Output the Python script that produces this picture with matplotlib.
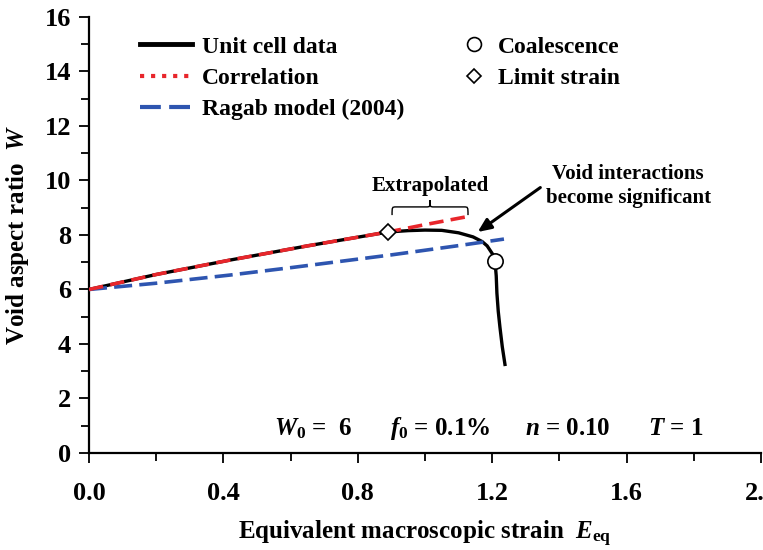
import matplotlib
matplotlib.use('Agg')
import matplotlib.pyplot as plt
from matplotlib.lines import Line2D
from matplotlib.path import Path
from matplotlib.patches import PathPatch

plt.rcParams['font.family'] = 'Liberation Serif'
plt.rcParams['font.weight'] = 'bold'
plt.rcParams['axes.labelweight'] = 'bold'
plt.rcParams['mathtext.fontset'] = 'custom'
plt.rcParams['mathtext.rm'] = 'Liberation Serif:bold'
plt.rcParams['mathtext.it'] = 'Liberation Serif:italic:bold'
plt.rcParams['mathtext.bf'] = 'Liberation Serif:bold'

# unit cell results
cell_E = [0.0, 0.2, 0.42, 0.65, 0.89, 0.95, 1.0, 1.05, 1.10, 1.143, 1.17, 1.185, 1.2, 1.208,
          1.212, 1.214, 1.218, 1.223, 1.23, 1.238]
cell_W = [6.0, 6.55, 7.08, 7.6, 8.11, 8.16, 8.18, 8.17, 8.08, 7.93, 7.76, 7.6, 7.32, 7.08,
          6.5, 5.87, 5.2, 4.62, 3.9, 3.25]

# correlation (extrapolated past the limit strain)
corr_E = [0.0, 0.2, 0.42, 0.65, 0.89, 1.0, 1.12]
corr_W = [6.0, 6.55, 7.08, 7.6, 8.11, 8.38, 8.66]

# Ragab (2004)
ragab_E = [0.0, 0.2, 0.42, 0.6, 0.9, 1.1, 1.235]
ragab_W = [6.0, 6.23, 6.53, 6.8, 7.27, 7.61, 7.85]

coal_E, coal_W = 1.208, 7.05
limit_E, limit_W = 0.89, 8.11

fig = plt.figure(figsize=(7.63, 5.5), dpi=100)
ax = fig.add_axes([0.1166, 0.1764, 0.8808, 0.7927])

ax.plot(cell_E, cell_W, color='black', lw=2.4, zorder=2)
ax.plot(ragab_E, ragab_W, color='#2e55b0', lw=2.6, dashes=(5, 2), zorder=3)
ax.plot(corr_E, corr_W, color='#e8262b', lw=2.6, dashes=(4, 2), zorder=4)
ax.plot(coal_E, coal_W, 'o', ms=11, mfc='white', mec='black', mew=1.2, zorder=5)
ax.plot(limit_E, limit_W, 'D', ms=8, mfc='white', mec='black', mew=1.2, zorder=5)

ax.set_xlim(0, 2.0)
ax.set_ylim(0, 16)
ax.set_xticks([0.0, 0.4, 0.8, 1.2, 1.6, 2.0])
ax.set_xticks([0.2, 0.6, 1.0, 1.4, 1.8], minor=True)
ax.set_yticks(range(0, 17, 2))
ax.set_yticks(range(1, 16, 2), minor=True)
ax.set_xticklabels(['0.0', '0.4', '0.8', '1.2', '1.6', '2.0'])
ax.tick_params(which='both', direction='out', width=1.3, labelsize=19, pad=6)
ax.tick_params(which='major', length=7)
ax.tick_params(which='minor', length=6)
ax.tick_params(axis='x', pad=14)
for s in ['top', 'right']:
    ax.spines[s].set_visible(False)
for s in ['left', 'bottom']:
    ax.spines[s].set_linewidth(1.6)

ax.set_xlabel(r'Equivalent macroscopic strain  $E_{\mathrm{eq}}$', fontsize=18, labelpad=10)
ax.set_ylabel(r'Void aspect ratio  $W$', fontsize=18, labelpad=10)

# legends
h1 = [Line2D([], [], color='black', lw=3.5),
      Line2D([], [], color='#e8262b', lw=3, ls=':'),
      Line2D([], [], color='#2e55b0', lw=3, dashes=(5, 2))]
leg1 = ax.legend(h1, ['Unit cell data', 'Correlation', 'Ragab model (2004)'],
                 loc='upper left', bbox_to_anchor=(0.045, 1.005), frameon=False,
                 fontsize=17, handlelength=2.2, handletextpad=0.4, labelspacing=0.42)
ax.add_artist(leg1)
h2 = [Line2D([], [], ls='none', marker='o', ms=10, mfc='white', mec='black', mew=1.2),
      Line2D([], [], ls='none', marker='D', ms=7, mfc='white', mec='black', mew=1.2)]
ax.legend(h2, ['Coalescence', 'Limit strain'], loc='upper left',
          bbox_to_anchor=(0.524, 1.005), frameon=False, fontsize=17,
          handlelength=1.0, handletextpad=0.5, labelspacing=0.42)

# brace over the extrapolated part
x0, x1, yb, ym, yt = 0.902, 1.128, 8.73, 9.03, 9.28
xc = (x0 + x1) / 2
d = 0.012
verts = [(x0, yb), (x0, ym), (x0, ym), (x0 + d, ym),
         (xc - d, ym), (xc, ym), (xc, ym), (xc, yt),
         (xc, ym), (xc, ym), (xc + d, ym),
         (x1 - d, ym), (x1, ym), (x1, ym), (x1, yb)]
codes = [Path.MOVETO, Path.CURVE4, Path.CURVE4, Path.CURVE4,
         Path.LINETO, Path.CURVE4, Path.CURVE4, Path.CURVE4,
         Path.CURVE4, Path.CURVE4, Path.CURVE4,
         Path.LINETO, Path.CURVE4, Path.CURVE4, Path.CURVE4]
ax.add_patch(PathPatch(Path(verts, codes), fill=False, lw=1.0, color='black'))
ax.text(xc, 9.8, 'Extrapolated', fontsize=15, ha='center', va='center')

ax.annotate('', xy=(1.15, 8.05), xytext=(1.35, 9.8),
            arrowprops=dict(arrowstyle='-|>,head_length=0.8,head_width=0.35',
                            color='black', lw=2.2))
ax.text(1.605, 9.8, 'Void interactions\nbecome significant', fontsize=15,
        ha='center', va='center', linespacing=1.25)

# parameters
ty = 0.9
ax.text(0.55, ty, r'$W_0$ =  6', fontsize=18, va='center')
ax.text(0.896, ty, r'$f_0$ = 0.1%', fontsize=18, va='center')
ax.text(1.298, ty, r'$n$ = 0.10', fontsize=18, va='center')
ax.text(1.664, ty, r'$T$ = 1', fontsize=18, va='center')

fig.savefig('out.png', dpi=100)
